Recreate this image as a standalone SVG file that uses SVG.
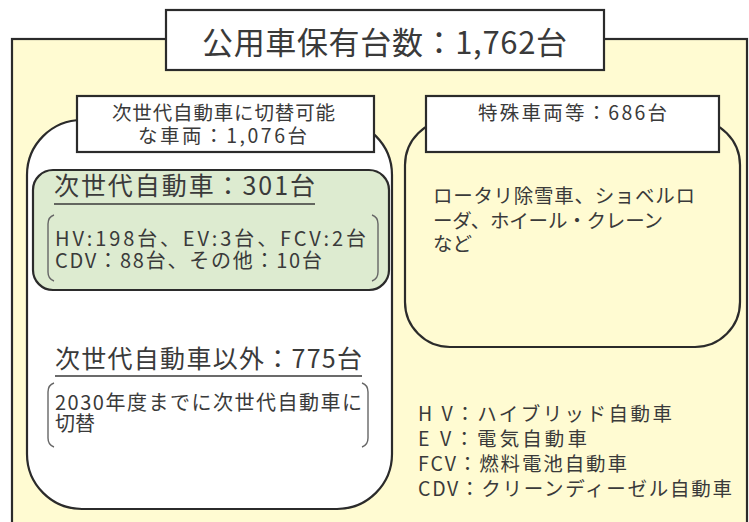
<svg xmlns="http://www.w3.org/2000/svg" width="749" height="522" viewBox="0 0 749 522">
  <style>
    .frame { stroke: #2b2b2b; stroke-width: 2.2; }
    .t { font-family: "Noto Sans CJK JP", "Noto Sans", sans-serif; fill: #3a3a3a; }
    .br { fill: none; stroke: #666; stroke-width: 1.4; }
    .ul { stroke: #3a3a3a; stroke-width: 1.4; }
  </style>
  <rect width="749" height="522" fill="#ffffff"/>
  <g id="outer">
    <rect class="frame" x="12" y="39" width="735" height="495" fill="#fffbd2"/>
  </g>
  <g id="title">
    <rect class="frame" x="166" y="10" width="438" height="60" fill="#ffffff"/>
    <text class="t" x="202" y="54" font-size="31" textLength="365" lengthAdjust="spacing">公用車保有台数：1,762台</text>
  </g>
  <g id="left-group">
    <rect class="frame" x="27" y="120" width="365" height="389" rx="55" ry="55" fill="#ffffff"/>
    <rect class="frame" x="77" y="96" width="297" height="56" fill="#ffffff"/>
    <text class="t" x="112" y="120" font-size="19.5" textLength="223" lengthAdjust="spacing">次世代自動車に切替可能</text>
    <text class="t" x="138" y="143" font-size="19.5" textLength="169" lengthAdjust="spacing">な車両：1,076台</text>
  </g>
  <g id="next-gen">
    <rect class="frame" x="33" y="170" width="356" height="120" rx="20" ry="20" fill="#ddebd0"/>
    <text class="t" x="54" y="195" font-size="25" textLength="261" lengthAdjust="spacing">次世代自動車：301台</text>
    <line class="ul" x1="54" y1="204" x2="315" y2="204"/>
    <path class="br" d="M54 215 Q48 217 48 224 L48 272 Q48 279 54 281"/>
    <path class="br" d="M372 215 Q378 217 378 224 L378 272 Q378 279 372 281"/>
    <text class="t" x="55" y="246" font-size="20" textLength="311" lengthAdjust="spacing">HV:198台、EV:3台、FCV:2台</text>
    <text class="t" x="55" y="268" font-size="20" textLength="267" lengthAdjust="spacing">CDV：88台、その他：10台</text>
  </g>
  <g id="other">
    <text class="t" x="55" y="368" font-size="25" textLength="307" lengthAdjust="spacing">次世代自動車以外：775台</text>
    <line class="ul" x1="55" y1="376" x2="362" y2="376"/>
    <path class="br" d="M54 383 Q48 385 48 392 L48 438 Q48 445 54 447"/>
    <path class="br" d="M362 383 Q368 385 368 392 L368 438 Q368 445 362 447"/>
    <text class="t" x="55" y="410" font-size="20" textLength="307" lengthAdjust="spacing">2030年度までに次世代自動車に</text>
    <text class="t" x="55" y="431" font-size="20">切替</text>
  </g>
  <g id="special">
    <rect class="frame" x="405" y="120" width="335" height="227" rx="45" ry="45" fill="#fffbd2"/>
    <rect class="frame" x="426" y="96" width="293" height="56" fill="#ffffff"/>
    <text class="t" x="478" y="120" font-size="19.5" textLength="189" lengthAdjust="spacing">特殊車両等：686台</text>
    <text class="t" x="433" y="203" font-size="19.5" textLength="262" lengthAdjust="spacing">ロータリ除雪車、ショベルロ</text>
    <text class="t" x="433" y="228" font-size="19.5" textLength="230" lengthAdjust="spacing">ーダ、ホイール・クレーン</text>
    <text class="t" x="433" y="251" font-size="19.5">など</text>
  </g>
  <g id="legend">
    <text class="t" font-size="19.5" x="418" y="421" textLength="254" lengthAdjust="spacing">H V：ハイブリッド自動車</text>
    <text class="t" font-size="19.5" x="418" y="446" textLength="169" lengthAdjust="spacing">E V：電気自動車</text>
    <text class="t" font-size="19.5" x="418" y="471" textLength="209" lengthAdjust="spacing">FCV：燃料電池自動車</text>
    <text class="t" font-size="19.5" x="418" y="496" textLength="314" lengthAdjust="spacing">CDV：クリーンディーゼル自動車</text>
  </g>
</svg>
